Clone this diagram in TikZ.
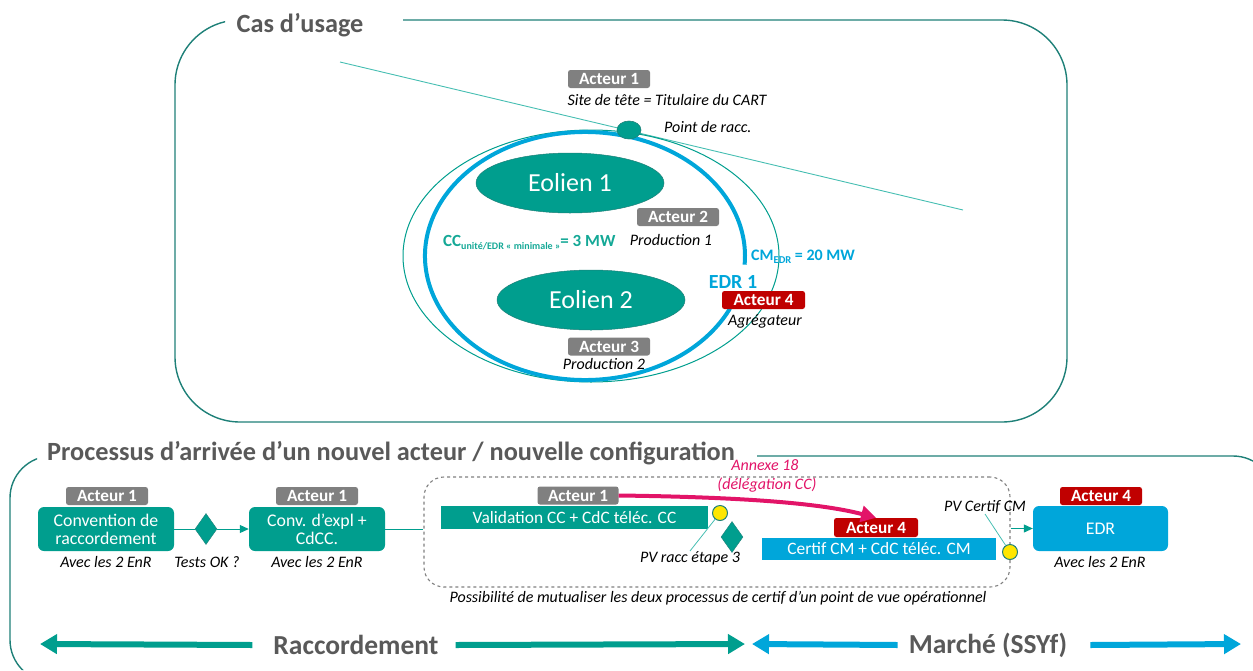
\documentclass[tikz,border=0pt]{standalone}
\usepackage{fontspec}
\setmainfont{Carlito}
\usetikzlibrary{shapes.geometric,arrows.meta,calc}
\definecolor{tealA}{RGB}{0,158,142}
\definecolor{tealD}{RGB}{30,128,120}
\definecolor{tealL}{RGB}{70,190,178}
\definecolor{tealT}{RGB}{20,168,150}
\definecolor{blueA}{RGB}{0,166,218}
\definecolor{redA}{RGB}{192,0,0}
\definecolor{greyA}{RGB}{128,128,128}
\definecolor{titleC}{RGB}{89,89,89}
\definecolor{pinkA}{RGB}{226,20,104}
\definecolor{yellowA}{RGB}{255,230,0}
\newcommand{\fs}[1]{\fontsize{#1}{#1}\selectfont}
\begin{document}
\begin{tikzpicture}[x=1pt,y=-1pt,
  frame/.style={draw=tealD, line width=1.4pt},
  heading/.style={text=titleC, font=\fs{26.3}\bfseries, inner sep=0pt},
  tag/.style={fill=greyA, text=white, font=\fs{17.2}\bfseries, rounded corners=2.5pt,
    minimum width=82pt, minimum height=18pt, inner sep=0pt},
  redtag/.style={tag, fill=redA},
  note/.style={font=\fs{16}\itshape, inner sep=0pt},
  pinknote/.style={note, text=pinkA},
  stepbox/.style={fill=tealA, text=white, rounded corners=6pt, font=\fs{17.8},
    minimum width=136pt, minimum height=44pt, inner sep=0pt, align=center},
  bar/.style={text=white, font=\fs{17.4}, inner sep=0pt},
  gate/.style={diamond, fill=tealA, draw=tealD, line width=0.4pt, inner sep=0pt,
    minimum width=22pt, minimum height=31pt},
  pv/.style={circle, fill=yellowA, draw=tealD, line width=1pt, inner sep=0pt, minimum size=15pt},
  wind/.style={ellipse, fill=tealA, draw=tealD, line width=0.5pt, text=white, font=\fs{26},
    minimum width=188pt, minimum height=60pt, inner sep=0pt},
  flow/.style={draw=tealA, line width=1pt},
  bigarrow/.style={line width=6pt, -{Triangle[length=17pt,width=19pt]}},
  band/.style={text=titleC, font=\fs{27.5}\bfseries, inner sep=0pt}
]
\useasboundingbox (0,0) rectangle (1253,670);

% outer frames, open where the headings sit
\begin{scope}[even odd rule]
  \clip (0,0) rectangle (1253,670) (225,4) rectangle (403,40) (37,438) rectangle (757,472);
  \draw[frame, rounded corners=65pt] (175,20) rectangle (1067,422);
  \draw[frame, rounded corners=42pt] (10,456) rectangle (1275,682);
\end{scope}
\node[heading] (h1) at (300,25) {Cas d’usage};
\node[heading] (h2) at (391,453) {Processus d’arrivée d’un nouvel acteur / nouvelle configuration};

% ---------- use case ----------
\coordinate (gridA) at (340,62);
\coordinate (gridB) at (963,210);
\draw[tealL, line width=0.9pt] (gridA) -- (gridB);
\draw[tealA, line width=1pt] (591,256) ellipse [x radius=188, y radius=126];
\draw[blueA, line width=4pt] ($(585,256)+(25:160 and 124)$)
  arc[start angle=25, end angle=364, x radius=160, y radius=124];
\node[ellipse, fill=tealA, draw=tealD, line width=0.6pt, minimum width=24pt, minimum height=18pt, inner sep=0pt] (racc) at (629,130) {};
\node[note, anchor=west] (raccl) at (664,127) {Point de racc.};

\node[tag] (a1) at (609,79) {Acteur 1};
\node[note] (a1l) at (667,100) {Site de tête = Titulaire du CART};

\node[wind] (e1) at (570,183) {Eolien 1};
\node[wind] (e2) at (591,300) {Eolien 2};

\node[tag] (a2) at (678,217) {Acteur 2};
\node[note] (a2l) at (671,240) {Production 1};
\node[tag] (a3) at (609,346.5) {Acteur 3};
\node[note] (a3l) at (604,364) {Production 2};

\node[text=tealT, font=\fs{17}\bfseries, inner sep=0pt, anchor=base west] (cc) at (443,246)
  {CC\raisebox{-3pt}{\fs{10}unité/EDR « minimale »}= 3 MW};
\node[text=blueA, font=\fs{16}\bfseries, inner sep=0pt, anchor=base west] (cm) at (751,260)
  {CM\raisebox{-3pt}{\fs{10.5}EDR} = 20 MW};
\node[text=blueA, font=\fs{20}\bfseries, inner sep=0pt] (edr1) at (733,282) {EDR 1};
\node[redtag, minimum width=83pt] (a4) at (763.5,300) {Acteur 4};
\node[note] (a4l) at (765,321) {Agrégateur};

% ---------- process ----------
\node[draw=greyA, dashed, line width=1.1pt, rounded corners=20pt,
  minimum width=586pt, minimum height=110pt, inner sep=0pt] (mut) at (717,532) {};
\node[note] (mutl) at (718,598) {Possibilité de mutualiser les deux processus de certif d’un point de vue opérationnel};

\node[stepbox] (c1) at (106,529) {Convention de\\raccordement};
\node[tag] (c1t) at (107,496) {Acteur 1};
\node[note] (c1l) at (106,562) {Avec les 2 EnR};

\node[gate] (g1) at (206,529) {};
\node[note] (g1l) at (207,562) {Tests OK ?};

\node[stepbox] (c2) at (317,529) {Conv. d’expl +\\CdCC.};
\node[tag] (c2t) at (317,496) {Acteur 1};
\node[note] (c2l) at (317,562) {Avec les 2 EnR};

\node[bar, fill=tealA, minimum width=267pt, minimum height=23pt] (val) at (574.5,517.5) {Validation CC + CdC téléc. CC};
\node[tag, minimum width=81pt] (valt) at (578,495.5) {Acteur 1};
\node[pv] (pv1) at (720,513) {};
\node[gate] (g2) at (732,537) {};
\node[note, anchor=north] (pv1l) at (690,551) {PV racc étape 3};

\node[bar, fill=blueA, minimum width=234pt, minimum height=22pt] (cert) at (879,549) {Certif CM + CdC téléc. CM};
\node[redtag, minimum width=84pt, minimum height=19pt] (certt) at (876,527.5) {Acteur 4};
\node[pv] (pv2) at (1010,552) {};
\node[note, anchor=south] (pv2l) at (985,514) {PV Certif CM};

\node[stepbox, fill=blueA, minimum width=135pt, minimum height=45pt] (edr) at (1100.5,528.5) {EDR};
\node[redtag] (edrt) at (1101,496) {Acteur 4};
\node[note] (edrl) at (1100,562) {Avec les 2 EnR};

\node[pinknote] (ann1) at (765,465) {Annexe 18};
\node[pinknote] (ann2) at (767,485) {(délégation CC)};

% connectors
\draw[flow] (c1.east) -- (g1.west);
\draw[flow, -{Triangle[length=9pt,width=8pt]}] (g1.east) -- (c2.west);
\draw[flow] (c2.east) -- (c2.east -| mut.west);
\draw[flow, -{Triangle[length=9pt,width=8pt]}] (edr.west -| mut.east) -- (edr.west);
\draw[tealL, line width=0.8pt] (pv1) -- (pv1l.north);
\draw[tealL, line width=0.8pt] (pv2) -- (pv2l.south);
\draw[pinkA, line width=4pt, -{Triangle[length=15pt,width=16pt]}]
  (valt.east) .. controls (740,497) and (820,503) .. (certt.north);

% bands
\node[band] (rb) at (356,645) {Raccordement};
\node[band] (mb) at (988,645) {Marché (SSYf)};
\coordinate (r1) at (40,644);
\coordinate (r2) at (745,644);
\coordinate (m1) at (752,644);
\coordinate (m2) at (1241,644);
\draw[bigarrow, tealA] (rb.west) ++(-21,0) -- (r1);
\draw[bigarrow, tealA] (rb.east) ++(17,0) -- (r2);
\draw[bigarrow, blueA] (mb.west) ++(-11,0) -- (m1);
\draw[bigarrow, blueA] (mb.east) ++(23,0) -- (m2);
\end{tikzpicture}
\end{document}
